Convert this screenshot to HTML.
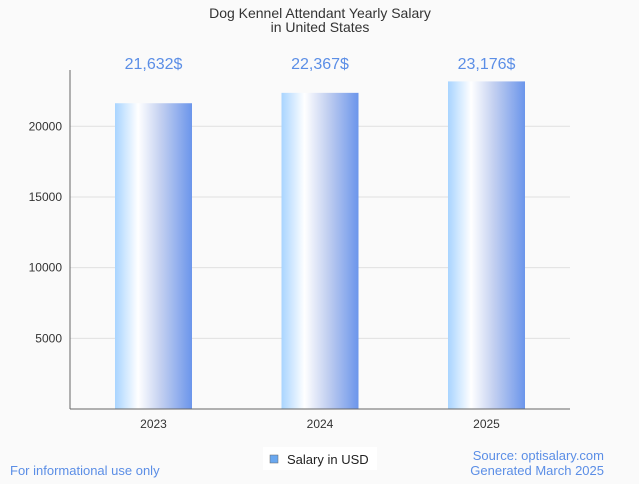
<!DOCTYPE html>
<html><head><meta charset="utf-8"><style>
body{margin:0;background:#fafafa;font-family:"Liberation Sans",sans-serif}
</style></head><body>
<svg width="639" height="479" xmlns="http://www.w3.org/2000/svg">
<defs><linearGradient id="g" x1="0" x2="1" y1="0" y2="0">
<stop offset="0" stop-color="#a8d4ff"/><stop offset="0.3" stop-color="#ffffff"/><stop offset="0.6" stop-color="#c2cff0"/><stop offset="1" stop-color="#6b95eb"/></linearGradient></defs>
<rect width="639" height="479" fill="#fafafa"/>
<text x="320" y="18" text-anchor="middle" font-size="14" fill="#333">Dog Kennel Attendant Yearly Salary</text>
<text x="320" y="32" text-anchor="middle" font-size="14" fill="#333">in United States</text>
<g id="grid"></g>
<g id="bars"></g>
<line x1="70" y1="70" x2="70" y2="409" stroke="#666"/>
<line x1="70" y1="409" x2="570" y2="409" stroke="#666"/>
<rect x="263" y="447" width="114" height="23" fill="#fff"/>
<rect x="270" y="455" width="8" height="8" fill="#6aa8f0" stroke="#666" stroke-width="0.5"/>
<text x="287" y="464" font-size="13" fill="#222">Salary in USD</text>
<text x="10" y="475" font-size="13" fill="#5b8ee6">For informational use only</text>
<text x="604" y="460" text-anchor="end" font-size="13" fill="#5b8ee6">Source: optisalary.com</text>
<text x="604" y="475" text-anchor="end" font-size="13" fill="#5b8ee6">Generated March 2025</text>
</svg>
<script>
const categories=["2023","2024","2025"];
const values=[21632,22367,23176];
const labels=["21,632$","22,367$","23,176$"];
const ticks=[5000,10000,15000,20000];
const NS="http://www.w3.org/2000/svg";
const y=v=>409-v*0.014135;
const xc=i=>153.5+i*166.5;
const grid=document.getElementById('grid'),bars=document.getElementById('bars');
function mk(p,t,a){const e=document.createElementNS(NS,t);for(const k in a)e.setAttribute(k,a[k]);p.appendChild(e);return e;}
ticks.forEach(t=>{
 const l=mk(grid,'line',{x1:70,x2:570,y1:y(t),y2:y(t),stroke:'#e0e0e0'});
 
 
 const tx=mk(grid,'text',{x:62,y:y(t)+4,'text-anchor':'end','font-size':12,fill:'#333'});
 tx.textContent=t;
 
 
});
categories.forEach((c,i)=>{
 const r=mk(bars,'rect',{x:xc(i)-38.5,y:y(values[i]),width:77,height:409-y(values[i]),fill:'url(#g)'});
 
 
 const v=mk(bars,'text',{x:xc(i),y:69,'text-anchor':'middle','font-size':16,fill:'#5b8ee6'});
 v.textContent=labels[i];
 
 
 const t=mk(bars,'text',{x:xc(i),y:428,'text-anchor':'middle','font-size':12,fill:'#333'});
 t.textContent=c;
 
 
});
</script>
</body></html>
